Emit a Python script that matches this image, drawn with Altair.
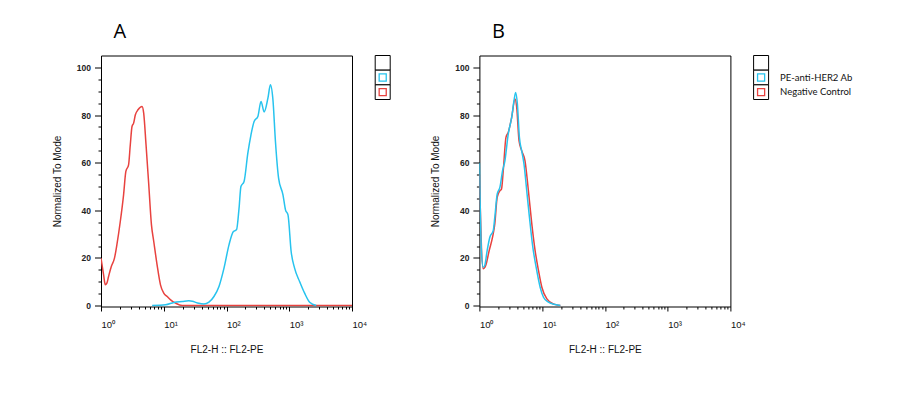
import altair as alt
import pandas as pd

RED = "#E8423F"
CYAN = "#27C3EE"

# ---- Panel A ----
red_a_x = [1.0, 1.10, 1.17, 1.24, 1.32, 1.46, 1.64, 1.79, 2.03, 2.29, 2.49, 2.75, 2.93, 3.12,
           3.31, 3.53, 3.89, 4.51, 4.79, 5.22, 5.77, 6.37, 6.93, 7.83, 8.87, 10.0, 11.35,
           12.85, 15.45, 19.7, 10000]
red_a_y = [19.9, 12.9, 8.7, 9.4, 12.2, 16.4, 19.9, 25.5, 35.3, 46.5, 56.3, 59.1, 67.5, 75.2,
           76.6, 80.1, 82.2, 83.6, 80.8, 67.5, 50.7, 33.9, 26.9, 17.1, 8.7, 5.2, 3.8,
           2.4, 1.0, 0, 0]
cyan_a_x = [6.53, 10.7, 14.5, 19.7, 25.1, 28.5, 34.3, 43.7, 52.5, 63.1, 75.9, 91.2, 109.6,
            128.8, 144.5, 158.5, 169.8, 190.5, 218.8, 245.5, 275.4, 316.2, 354.8, 398.1,
            457.1, 501.2, 549.5, 602.6, 676.1, 794.3, 871, 955, 1072, 1216, 1462, 1758,
            2113, 2692]
cyan_a_y = [0, 0.3, 1.3, 1.7, 2.0, 1.8, 1.1, 0.6, 1.4, 3.8, 8.0, 15.7, 25.5,
            31.1, 31.8, 40.9, 50, 52.1, 64, 71.7, 77.3, 79.4, 85.7, 81.3,
            87.1, 92.7, 86.4, 68.9, 53.5, 46.5, 40.2, 38.1, 22.7, 15.7, 10.1, 5.2,
            1.4, 0]

# ---- Panel B ----
red_b_x = [1.0, 1.146, 1.26, 1.43, 1.62, 1.76, 1.92, 2.12, 2.25, 2.40, 2.65, 2.88, 3.27,
           3.69, 3.93, 4.28, 4.72, 5.33, 6.04, 6.84, 7.73, 8.75, 9.89, 11.9, 15.1, 19.5]
red_b_y = [55, 15.4, 16.8, 23, 28.7, 34.3, 45.4, 48.2, 48.9, 56.6, 70.6, 72.7, 79,
           86.7, 83.2, 69.2, 65, 60.8, 48.2, 34.3, 23, 14.7, 7.7, 2.8, 0.7, 0]
cyan_b_x = [1.0, 1.077, 1.146, 1.216, 1.327, 1.466, 1.66, 1.76, 1.92, 2.12, 2.34, 2.55,
            2.88, 3.27, 3.56, 3.78, 4.03, 4.34, 4.72, 5.14, 5.68, 6.27, 7.10, 8.02,
            9.29, 10.5, 12.6, 16.2, 19.5]
cyan_b_y = [60, 23, 16.1, 16.8, 23, 28.7, 31.4, 37.1, 46.8, 49.6, 56.6, 60.8,
            72, 79, 86, 89.5, 84.6, 70.6, 65, 59.4, 48.2, 37.1, 24.5, 16.1,
            7.7, 3.5, 1.4, 0.4, 0]

# ---- ticks / labels ----
x_major = [1, 10, 100, 1000, 10000]
x_minor = [m * 10 ** k for k in range(4) for m in range(2, 10)]
y_major = [0, 20, 40, 60, 80, 100]
y_minor = [v for v in range(5, 100, 5) if v % 20]
sup_digits = ["\u2070", "\u00b9", "\u00b2", "\u00b3", "\u2074"]
legend_keys = ["blank", "pe", "neg"]
legend_labels = ["", "PE-anti-HER2 Ab", "Negative Control"]

LABEL_FONT = "Liberation Sans"

x_label_expr = "'10' + [" + ",".join("'" + s + "'" for s in sup_digits) + "][round(log(datum.value) / LN10)]"


def panel(rx, ry, cx, cy, letter):
    red = pd.DataFrame({"x": rx, "y": ry})
    cyan = pd.DataFrame({"x": cx, "y": cy})
    xs = alt.Scale(type="log", domain=[1, 10000], nice=False)
    ys = alt.Scale(domain=[-0.4, 105], nice=False, zero=False)
    x_major_axis = alt.Axis(values=x_major, labelExpr=x_label_expr, tickSize=4.5,
                            labelAlign="left", labelFlush=True, labelPadding=8,
                            labelFont=LABEL_FONT, labelFontSize=9.5, labelColor="#111",
                            title="FL2-H :: FL2-PE", titleFont=LABEL_FONT, titleFontSize=10,
                            titleFontWeight="normal", titleColor="#111", titlePadding=16,
                            grid=False, domain=False, orient="bottom")
    x_minor_axis = alt.Axis(values=x_minor, labels=False, tickSize=2.5, title=None,
                            grid=False, domain=False, orient="bottom")
    y_major_axis = alt.Axis(values=y_major, tickSize=6.5, labelPadding=4,
                            labelFont=LABEL_FONT, labelFontSize=8.5, labelFontWeight="bold",
                            labelColor="#222",
                            title="Normalized To Mode", titleFont=LABEL_FONT, titleFontSize=10,
                            titleFontWeight="normal", titleColor="#111", titlePadding=14,
                            grid=False, domain=False, orient="left")
    y_minor_axis = alt.Axis(values=y_minor, labels=False, tickSize=3, title=None,
                            grid=False, domain=False, orient="left")
    red_line = alt.Chart(red).mark_line(color=RED, strokeWidth=1.5, interpolate="monotone",
                                        clip=True).encode(
        x=alt.X("x:Q", scale=xs, axis=x_major_axis),
        y=alt.Y("y:Q", scale=ys, axis=y_major_axis),
    )
    cyan_line = alt.Chart(cyan).mark_line(color=CYAN, strokeWidth=1.5, interpolate="monotone",
                                          clip=True).encode(
        x=alt.X("x:Q", scale=xs, axis=x_minor_axis),
        y=alt.Y("y:Q", scale=ys, axis=y_minor_axis),
    )
    return alt.layer(red_line, cyan_line).resolve_axis(x="independent", y="independent").properties(
        width=251, height=251,
        title=alt.TitleParams(letter, anchor="start", frame="group", font="Open Sans",
                              fontSize=20, fontWeight="normal", color="#000", dx=12.5,
                              offset=-2, baseline="alphabetic"),
    )


def legend(width, with_text):
    leg = pd.DataFrame({"key": legend_keys, "label": legend_labels})
    yenc = alt.Y("key:N", sort=legend_keys, axis=None,
                 scale=alt.Scale(paddingInner=0, paddingOuter=0))
    cells = alt.Chart(leg).mark_rect(fill="white", stroke="#000", strokeWidth=1).encode(
        x=alt.value(0), x2=alt.value(15), y=yenc)
    squares = alt.Chart(leg).transform_filter("datum.key != 'blank'").mark_point(
        shape="square", filled=False, size=50, strokeWidth=1.3, opacity=1).encode(
        x=alt.value(7.5), y=yenc,
        color=alt.Color("key:N", scale=alt.Scale(domain=legend_keys[1:], range=[CYAN, RED]),
                        legend=None))
    layers = [cells, squares]
    if with_text:
        text = alt.Chart(leg).mark_text(align="left", baseline="middle", font="Lato",
                                        fontSize=9.5, color="#111").encode(
            x=alt.value(26.5), y=yenc, text="label:N")
        layers.append(text)
    return alt.layer(*layers).properties(width=width, height=44,
                                          view=alt.ViewBackground(strokeOpacity=0))


chart = alt.hconcat(
    panel(red_a_x, red_a_y, cyan_a_x, cyan_a_y, "A"),
    legend(81, False),
    panel(red_b_x, red_b_y, cyan_b_x, cyan_b_y, "B"),
    legend(110, True),
    spacing=23.2,
    bounds="flush",
).properties(
    padding={"left": 43, "top": 12.5, "right": 5, "bottom": 5},
    background="white",
).configure_view(stroke="#000", strokeWidth=1).configure_axis(
    tickColor="#000", tickWidth=1
)

chart.save("out.html", embed_options={"renderer": "svg", "actions": False})
